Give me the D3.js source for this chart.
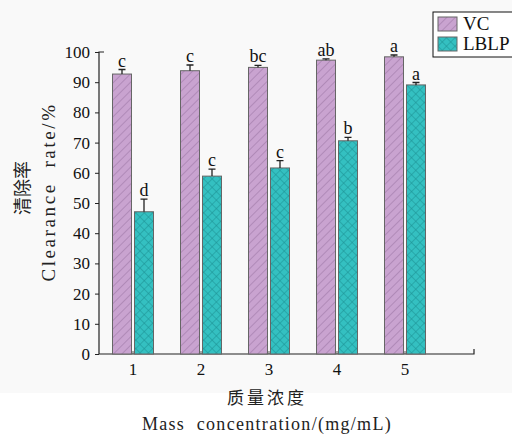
<!DOCTYPE html>
<html>
<head>
<meta charset="utf-8">
<script src="https://cdn.jsdelivr.net/npm/d3@7"></script>
<style>
  body { margin: 0; background: #fff; }
  svg { display: block; }
</style>
</head>
<body>
<div id="chart"></div>
<script>
// data
const categories = ['1', '2', '3', '4', '5'];
const vcValues = [92.7, 93.8, 94.9, 97.3, 98.4];
const vcErrors = [1.5, 1.9, 0.7, 0.4, 0.6];
const vcLetters = ['c', 'c', 'bc', 'ab', 'a'];
const lblpValues = [47.1, 58.9, 61.6, 70.6, 89.1];
const lblpErrors = [4.2, 2.3, 2.4, 1.1, 0.8];
const lblpLetters = ['d', 'c', 'c', 'b', 'a'];
const yTicks = [0, 10, 20, 30, 40, 50, 60, 70, 80, 90, 100];

const width = 512, height = 443;
const serif = '"Liberation Serif", "DejaVu Serif", serif';

const svg = d3.select('#chart').append('svg')
    .attr('width', width)
    .attr('height', height);

// faint grey background behind the plot part
svg.append('rect')
    .attr('width', width).attr('height', 393)
    .attr('fill', '#f9f9f9');

//Patterns for the bars
const defs = svg.append('defs');
const pVC = defs.append('pattern')
    .attr('id', 'hatchVC')
    .attr('patternUnits', 'userSpaceOnUse')
    .attr('width', 6).attr('height', 6)
    .attr('patternTransform', 'rotate(45)');
pVC.append('rect').attr('width', 6).attr('height', 6).attr('fill', '#c9a3d0');
pVC.append('line').attr('x1', 0).attr('y1', 0).attr('x2', 0).attr('y2', 6)
    .attr('stroke', '#a27dab').attr('stroke-width', 1.3);

const pL = defs.append('pattern')
    .attr('id', 'hatchLBLP')
    .attr('patternUnits', 'userSpaceOnUse')
    .attr('width', 6).attr('height', 6)
    .attr('patternTransform', 'rotate(45)');
pL.append('rect').attr('width', 6).attr('height', 6).attr('fill', '#34c0c1');
pL.append('line').attr('x1', 0).attr('y1', 0).attr('x2', 0).attr('y2', 6)
    .attr('stroke', '#1c8f92').attr('stroke-width', 1);
pL.append('line').attr('x1', 0).attr('y1', 0).attr('x2', 6).attr('y2', 0)
    .attr('stroke', '#1c8f92').attr('stroke-width', 1);

//Scales
const x = d3.scaleBand()
    .domain(categories)
    .range([99, 439]);
const xEnd = 474;
const y = d3.scaleLinear()
    .domain([0, 100])
    .range([354, 52]);

const barW = 19, gap = 1.5;

//Y axis
const yAxis = svg.append('g')
    .attr('transform', 'translate(99,0)')
    .call(d3.axisLeft(y).tickValues(yTicks).tickSize(4).tickPadding(5).tickSizeOuter(0));
yAxis.select('.domain').remove();
yAxis.selectAll('line').attr('stroke', '#222');
yAxis.selectAll('text')
    .attr('font-family', serif).attr('font-size', 17).attr('fill', '#111');

// axis frame: left line and bottom line with end caps
svg.append('path')
    .attr('d', `M104,${y(100)}H99V${y(0)}H${xEnd}V${y(0) - 5}`)
    .attr('fill', 'none').attr('stroke', '#222').attr('stroke-width', 1.2);

//X axis labels + small inner ticks
const xAxis = svg.append('g')
    .attr('transform', `translate(0,${y(0)})`)
    .call(d3.axisBottom(x).tickSize(0).tickPadding(9));
xAxis.select('.domain').remove();
xAxis.selectAll('text')
    .attr('font-family', serif).attr('font-size', 17).attr('fill', '#111');
svg.append('g').selectAll('line')
    .data(categories).join('line')
    .attr('x1', d => x(d) + x.bandwidth() / 2)
    .attr('x2', d => x(d) + x.bandwidth() / 2)
    .attr('y1', y(0)).attr('y2', y(0) - 3)
    .attr('stroke', '#555');

//Bars
function drawSeries(values, errors, letters, offset, fillId) {
    const g = svg.append('g');
    const cx = (d, i) => x(categories[i]) + x.bandwidth() / 2 + offset;
    g.selectAll('rect')
        .data(values).join('rect')
        .attr('x', (d, i) => cx(d, i) - barW / 2)
        .attr('y', d => y(d))
        .attr('width', barW)
        .attr('height', d => y(0) - y(d))
        .attr('fill', `url(#${fillId})`)
        .attr('stroke', '#666').attr('stroke-width', 1);
    // error bars (upper only)
    g.selectAll('path.err')
        .data(values).join('path')
        .attr('class', 'err')
        .attr('d', (d, i) => {
            const c = cx(d, i), t = y(d + errors[i]);
            return `M${c},${y(d)}V${t}M${c - 3.5},${t}H${c + 3.5}`;
        })
        .attr('stroke', '#222').attr('stroke-width', 1.3).attr('fill', 'none');
    g.selectAll('text')
        .data(values).join('text')
        .attr('x', (d, i) => cx(d, i))
        .attr('y', (d, i) => y(d + errors[i]) - 3)
        .attr('text-anchor', 'middle')
        .attr('font-family', serif).attr('font-size', 18).attr('fill', '#111')
        .text((d, i) => letters[i]);
}
drawSeries(vcValues, vcErrors, vcLetters, -(barW / 2 + gap), 'hatchVC');
drawSeries(lblpValues, lblpErrors, lblpLetters, barW / 2 + gap, 'hatchLBLP');

//Axis titles
svg.append('text')
    .attr('transform', 'translate(29,188) rotate(-90)')
    .attr('text-anchor', 'middle')
    .attr('font-family', '"Noto Sans CJK SC", sans-serif')
    .attr('font-size', 18).attr('fill', '#222')
    .text('清除率');
svg.append('text')
    .attr('transform', 'translate(55,192) rotate(-90)')
    .attr('text-anchor', 'middle')
    .attr('font-family', serif).attr('font-size', 19).attr('fill', '#222')
    .attr('letter-spacing', 2.6)
    .attr('xml:space', 'preserve')
    .text('Clearance  rate/%');
svg.append('text')
    .attr('x', 267).attr('y', 404)
    .attr('text-anchor', 'middle')
    .attr('font-family', '"Noto Sans CJK SC", sans-serif')
    .attr('font-size', 17).attr('fill', '#222')
    .attr('letter-spacing', 3)
    .text('质量浓度');
svg.append('text')
    .attr('x', 267).attr('y', 430)
    .attr('text-anchor', 'middle')
    .attr('font-family', serif).attr('font-size', 18).attr('fill', '#222')
    .attr('letter-spacing', 1.3)
    .attr('xml:space', 'preserve')
    .text('Mass  concentration/(mg/mL)');

//Legend
const legend = svg.append('g');
legend.append('rect')
    .attr('x', 433).attr('y', 12).attr('width', 100).attr('height', 45)
    .attr('fill', '#fff').attr('stroke', '#111').attr('stroke-width', 1);
const legendItems = [['VC', 'hatchVC'], ['LBLP', 'hatchLBLP']];
legend.selectAll('g.item')
    .data(legendItems).join('g')
    .attr('class', 'item')
    .attr('transform', (d, i) => `translate(438,${17 + i * 20})`)
    .each(function (d) {
        const it = d3.select(this);
        it.append('rect').attr('width', 19).attr('height', 14)
            .attr('fill', `url(#${d[1]})`).attr('stroke', '#666');
        it.append('text').attr('x', 25).attr('y', 13)
            .attr('font-family', serif).attr('font-size', 19).attr('fill', '#111')
            .text(d[0]);
    });
</script>
</body>
</html>
